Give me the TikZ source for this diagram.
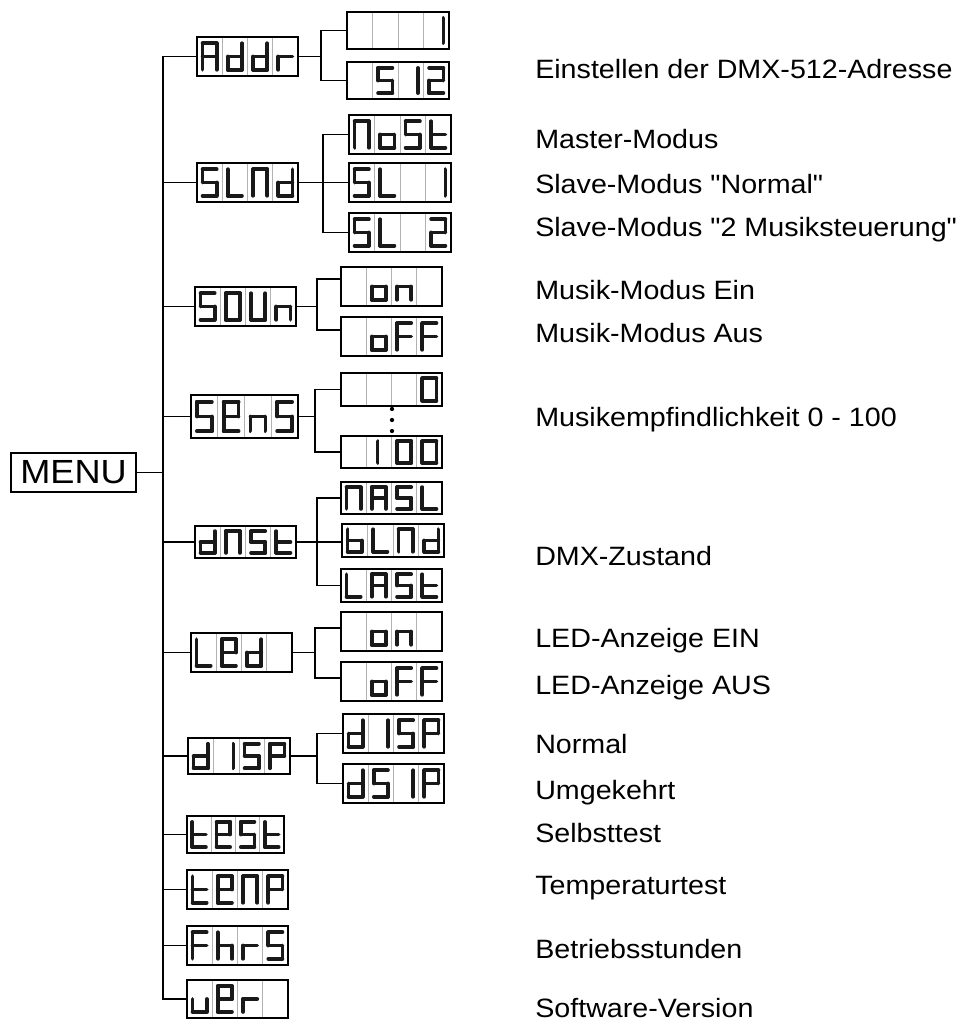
\documentclass[tikz,border=0pt]{standalone}
\usepackage{fontspec}
\newfontfamily\labfont[FakeStretch=1.08]{Liberation Sans}
\tikzset{
 conn/.style={line width=1.1pt, black},
 dbox/.style={draw, line width=0.9pt, inner sep=0pt, outer sep=0pt},
 sepline/.style={line width=0.5pt, black!30},
 segline/.style={line width=2.8pt, line cap=round, black!90},
 lab/.style={anchor=base west, inner sep=0pt, font=\labfont\fontsize{19.9}{24}\selectfont},
}
% segments
\def\sga{\draw[segline] (\segL,\segT)--(\segR,\segT);}
\def\sgb{\draw[segline] (\segR,\segT)--(\segR,\segM);}
\def\sgc{\draw[segline] (\segR,\segM)--(\segR,\segB);}
\def\sgd{\draw[segline] (\segL,\segB)--(\segR,\segB);}
\def\sge{\draw[segline] (\segL,\segM)--(\segL,\segB);}
\def\sgf{\draw[segline] (\segL,\segT)--(\segL,\segM);}
\def\sgg{\draw[segline] (\segL,\segM)--(\segR,\segM);}
\def\sgk{\draw[segline] (\segC,\segT)--(\segC,\segB);}
\def\segloop#1{\ifx#1\relax\else\csname sg#1\endcsname\expandafter\segloop\fi}
% glyphs
\def\gyA{abcefg}\def\gyd{bcdeg}\def\gyr{eg}\def\gyS{afgcd}\def\gyone{bc}
\def\gytwo{abged}\def\gyN{abcef}\def\gya{cdeg}\def\gyt{fegd}
\def\gyL{fed}\def\gyO{abcdef}\def\gyU{bcdef}\def\gyn{ceg}\def\gyo{cdeg}
\def\gyF{afge}\def\gyE{abdefg}\def\gyb{cdefg}\def\gyP{abefg}\def\gyh{cefg}
\def\gyu{cde}\def\gyk{k}\def\gyX{}
\newcommand\dcell[2]{%
  \pgfmathsetmacro\segL{\bxa+(#1+0.22)*\cw}%
  \pgfmathsetmacro\segR{\bxa+(#1+0.78)*\cw}%
  \pgfmathsetmacro\segC{\bxa+(#1+0.45)*\cw}%
  \pgfmathsetmacro\segT{\bya+0.16*\bh}%
  \pgfmathsetmacro\segM{\bya+0.5*\bh}%
  \pgfmathsetmacro\segB{\bya+0.84*\bh}%
  \expandafter\segloop#2\relax}
\newcommand\dispbox[9]{%
  \pgfmathsetmacro\bxa{#2}\pgfmathsetmacro\bya{#3}%
  \pgfmathsetmacro\cw{(#4-#2)/4}\pgfmathsetmacro\bh{#5-#3}%
  \pgfmathsetmacro\bwpt{(#4-#2)*0.75}\pgfmathsetmacro\bhpt{(#5-#3)*0.75}%
  \pgfmathsetmacro\bcx{(#2+#4)/2}\pgfmathsetmacro\bcy{(#3+#5)/2}%
  \foreach \k in {1,2,3}{\draw[sepline] ({\bxa+\k*\cw},#3) -- ({\bxa+\k*\cw},#5);}
  \dcell{0}{#6}\dcell{1}{#7}\dcell{2}{#8}\dcell{3}{#9}%
  \node[dbox, minimum width=\bwpt pt, minimum height=\bhpt pt] (#1) at (\bcx,\bcy) {};
}
\begin{document}
\begin{tikzpicture}[x=0.75pt, y=-0.75pt]
\useasboundingbox (0,0) rectangle (967,1021);
% MENU
\node[dbox, line width=1pt, minimum width=93.75pt, minimum height=29.25pt,
  font=\labfont\fontsize{25.1}{30}\selectfont] (menu) at (73.5,472.5) {MENU};
% level 1
\dispbox{Addr}{197}{37}{298}{76}{\gyA}{\gyd}{\gyd}{\gyr}
\dispbox{SLNd}{197}{163}{298}{202}{\gyS}{\gyL}{\gyN}{\gyd}
\dispbox{SOUn}{195}{287}{296}{326}{\gyS}{\gyO}{\gyU}{\gyn}
\dispbox{SEnS}{191}{395}{298}{438}{\gyS}{\gyE}{\gyn}{\gyS}
\dispbox{dNSt}{195}{526}{296}{558}{\gyd}{\gyN}{\gyS}{\gyt}
\dispbox{LEd}{191}{633}{292}{672}{\gyL}{\gyE}{\gyd}{\gyX}
\dispbox{dISP}{188}{738}{290}{774}{\gyd}{\gyone}{\gyS}{\gyP}
\dispbox{tESt}{187}{816}{284}{853}{\gyt}{\gyE}{\gyS}{\gyt}
\dispbox{tEnp}{187}{870}{288}{909}{\gyt}{\gyE}{\gyN}{\gyP}
\dispbox{FhrS}{187}{926}{288}{965}{\gyF}{\gyh}{\gyr}{\gyS}
\dispbox{uEr}{187}{980}{288}{1018}{\gyu}{\gyE}{\gyr}{\gyX}
% level 2
\dispbox{vone}{347}{12}{449}{49}{\gyX}{\gyX}{\gyX}{\gyone}
\dispbox{vfive}{347}{62}{449}{99}{\gyX}{\gyS}{\gyone}{\gytwo}
\dispbox{MASt}{349}{115}{451}{154}{\gyN}{\gya}{\gyS}{\gyt}
\dispbox{SLone}{349}{163}{451}{202}{\gyS}{\gyL}{\gyX}{\gyone}
\dispbox{SLtwo}{349}{213}{451}{252}{\gyS}{\gyL}{\gyX}{\gytwo}
\dispbox{onA}{341}{267}{442}{306}{\gyX}{\gyo}{\gyn}{\gyX}
\dispbox{offA}{341}{317}{442}{356}{\gyX}{\gyo}{\gyF}{\gyF}
\dispbox{vzero}{341}{373}{442}{406}{\gyX}{\gyX}{\gyX}{\gyO}
\dispbox{vhund}{341}{436}{442}{468}{\gyX}{\gyk}{\gyO}{\gyO}
\dispbox{NASL}{341}{482}{442}{514}{\gyN}{\gyA}{\gyS}{\gyL}
\dispbox{bLNd}{342}{524}{444}{557}{\gyb}{\gyL}{\gyN}{\gyd}
\dispbox{LASt}{341}{569}{442}{602}{\gyL}{\gyA}{\gyS}{\gyt}
\dispbox{onB}{341}{612}{442}{651}{\gyX}{\gyo}{\gyn}{\gyX}
\dispbox{offB}{341}{662}{442}{701}{\gyX}{\gyo}{\gyF}{\gyF}
\dispbox{dISPb}{343}{714}{444}{753}{\gyd}{\gyone}{\gyS}{\gyP}
\dispbox{dSIP}{343}{764}{444}{803}{\gyd}{\gyS}{\gyone}{\gyP}
% dots
\foreach \yy in {409,420,431} \fill (392,\yy) circle[radius=1.6pt];
% main bus
\coordinate (bus) at (163,0);
\draw[conn] (Addr.west) -| (bus |- uEr.west) -- (uEr.west);
\foreach \n in {SLNd,SOUn,SEnS,dNSt,LEd,dISP,tESt,tEnp,FhrS}
  \draw[conn] (\n.west) -- (\n.west -| bus);
\draw[conn] (menu.east) -- (menu.east -| bus);
% sub junctions
\coordinate (jA) at (321,0);
\draw[conn] (Addr.east) -- (Addr.east -| jA);
\draw[conn] (vone.west) -| (jA |- vfive.west) -- (vfive.west);
\coordinate (jS) at (323,0);
\draw[conn] (SLNd.east) -- (SLone.west);
\draw[conn] (MASt.west) -| (jS |- SLtwo.west) -- (SLtwo.west);
\coordinate (jO) at (317,0);
\coordinate (onAin) at ([yshift=5.6pt]onA.west);
\coordinate (offAin) at ([yshift=4.9pt]offA.west);
\draw[conn] (SOUn.east) -- (SOUn.east -| jO);
\draw[conn] (onAin) -| (jO |- offAin) -- (offAin);
\coordinate (jE) at (315,0);
\draw[conn] (SEnS.east) -- (SEnS.east -| jE);
\draw[conn] (vzero.west) -| (jE |- vhund.west) -- (vhund.west);
\coordinate (jD) at (317,0);
\draw[conn] (dNSt.east) -- (bLNd.west |- dNSt.east);
\draw[conn] (NASL.west) -| (jD |- LASt.west) -- (LASt.west);
\coordinate (jL) at (315,0);
\coordinate (onBin) at ([yshift=2.6pt]onB.west);
\coordinate (offBin) at ([yshift=2.6pt]offB.west);
\draw[conn] (LEd.east) -- (LEd.east -| jL);
\draw[conn] (onBin) -| (jL |- offBin) -- (offBin);
\coordinate (jI) at (317,0);
\draw[conn] (dISP.east) -- (dISP.east -| jI);
\draw[conn] (dISPb.west) -| (jI |- dSIP.west) -- (dSIP.west);
% labels
\node[lab] (l1) at (535,78) {Einstellen der DMX-512-Adresse};
\node[lab] (l2) at (535,148) {Master-Modus};
\node[lab] (l3) at (535,193) {Slave-Modus "Normal"};
\node[lab] (l4) at (535,236) {Slave-Modus "2 Musiksteuerung"};
\node[lab] (l5) at (535,299) {Musik-Modus Ein};
\node[lab] (l6) at (535,342) {Musik-Modus Aus};
\node[lab] (l7) at (535,426) {Musikempfindlichkeit 0 - 100};
\node[lab] (l8) at (535,565) {DMX-Zustand};
\node[lab] (l9) at (535,647) {LED-Anzeige EIN};
\node[lab] (l10) at (535,694) {LED-Anzeige AUS};
\node[lab] (l11) at (535,753) {Normal};
\node[lab] (l12) at (535,799) {Umgekehrt};
\node[lab] (l13) at (535,842) {Selbsttest};
\node[lab] (l14) at (535,894) {Temperaturtest};
\node[lab] (l15) at (535,958) {Betriebsstunden};
\node[lab] (l16) at (535,1017) {Software-Version};
\end{tikzpicture}
\end{document}
